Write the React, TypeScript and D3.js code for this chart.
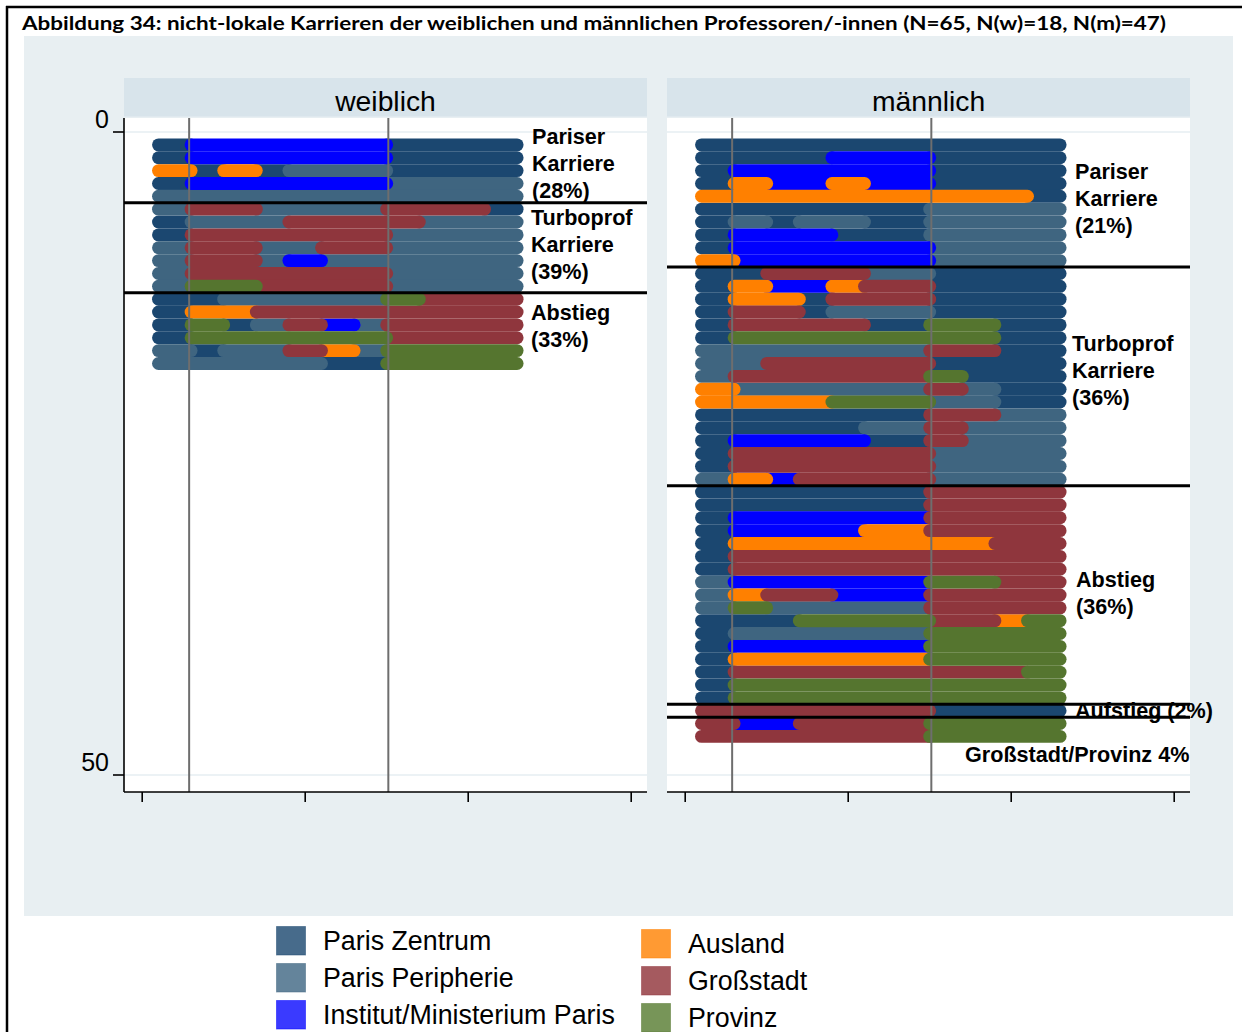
import React from "react";
import * as d3 from "d3";

// ---- states ----
const stateCodes = ["Z", "P", "I", "A", "G", "V"];
const stateLabels = [
  "Paris Zentrum",
  "Paris Peripherie",
  "Institut/Ministerium Paris",
  "Ausland",
  "Großstadt",
  "Provinz",
];
const stateColors = ["#1b4770", "#3f6580", "#0000ff", "#ff8000", "#8f363d", "#55752f"];
const legendColors = ["#476b8b", "#64849b", "#3a3aff", "#ff9a33", "#a55a5f", "#779558"];

// ---- sequences (run-length: state + number of periods), 22 periods each ----
const femaleRows = [
  "Z2,I12,Z8",
  "Z2,I12,Z8",
  "A2,Z2,A2,Z2,P6,Z8",
  "Z2,I12,P8",
  "P22",
  "P2,G4,P8,G6,Z2",
  "Z2,P6,G8,P6",
  "Z2,G12,P8",
  "P2,G4,P4,G4,P8",
  "P2,G4,P2,I2,P12",
  "P2,G12,P8",
  "P2,V4,G8,P8",
  "Z4,P10,V2,G6",
  "Z2,A4,G16",
  "Z2,V2,Z2,P2,G2,I2,P2,G8",
  "Z2,V12,G8",
  "P2,Z2,P4,G2,A2,P2,V8",
  "P10,Z4,V8",
];

const maleRows = [
  "Z22",
  "Z8,I6,Z8",
  "Z2,I12,Z8",
  "Z2,A2,I4,A2,I4,Z8",
  "A20,Z2",
  "Z14,P8",
  "Z2,P2,Z2,P4,Z4,P8",
  "Z2,I6,Z6,P8",
  "Z2,I12,P8",
  "A2,I12,P8",
  "Z4,G6,P4,Z8",
  "Z2,A2,I4,A2,G4,Z8",
  "Z2,A4,Z2,G6,Z8",
  "Z2,G4,Z2,P6,Z8",
  "Z2,G8,Z4,V4,Z4",
  "Z2,V16,Z4",
  "P14,G4,Z4",
  "P4,G10,Z8",
  "P2,G12,V2,Z6",
  "A2,P12,G2,P2,Z4",
  "A8,V6,P4,Z4",
  "Z14,G4,P4",
  "Z10,P4,G2,P6",
  "Z2,I8,Z4,G2,P6",
  "Z2,G12,P8",
  "Z2,G12,P8",
  "P2,A2,I2,G8,P8",
  "Z14,G8",
  "Z14,G8",
  "Z2,I12,G8",
  "Z2,I8,A4,G8",
  "Z2,A16,G4",
  "Z2,G20",
  "Z2,G20",
  "P2,I12,V4,G4",
  "P2,A2,G4,I6,G8",
  "P2,V2,P10,G8",
  "Z6,V8,G4,A2,V2",
  "Z2,P12,V8",
  "Z2,I12,V8",
  "Z2,A12,V8",
  "Z2,G18,V2",
  "Z2,V20",
  "Z2,V20",
  "G14,Z8",
  "G2,I4,G8,V8",
  "G14,V8",
];

const femaleGroupBreaks = [5.5, 12.5];
const maleGroupBreaks = [10.5, 27.5, 44.5, 45.5];
const femaleGroupLabels = [
  ["Pariser", "Karriere", "(28%)"],
  ["Turboprof", "Karriere", "(39%)"],
  ["Abstieg", "(33%)"],
];
const maleGroupLabels = [
  ["Pariser", "Karriere", "(21%)"],
  ["Turboprof", "Karriere", "(36%)"],
  ["Abstieg", "(36%)"],
  ["Aufstieg (2%)"],
  ["Großstadt/Provinz 4%"],
];
const yTicks = [0, 50];
const xTicks = [0, 10, 20, 30];
const refLines = [2.88, 15.1];
const panelTitles = ["weiblich", "männlich"];
const titleText =
  "Abbildung 34: nicht-lokale Karrieren der weiblichen und männlichen Professoren/-innen (N=65, N(w)=18, N(m)=47)";

// ---- layout ----
const W = 1242;
const H = 1032;
const SANS = "'Liberation Sans', Arial, sans-serif";

type Run = { s: number; start: number; end: number };

function parseRow(row: string): Run[] {
  const runs: Run[] = [];
  let t = 1;
  row.split(",").forEach((tok) => {
    const code = tok[0];
    const len = parseInt(tok.slice(1), 10);
    runs.push({ s: stateCodes.indexOf(code), start: t, end: t + len });
    t += len;
  });
  return runs;
}

const femaleLabelPos = [
  { x: 532, y: 144 },
  { x: 531, y: 225 },
  { x: 531, y: 320 },
];
const maleLabelPos = [
  { x: 1075, y: 179 },
  { x: 1072, y: 351 },
  { x: 1076, y: 587 },
  { x: 1075, y: 718 },
  { x: 965, y: 762 },
];

function Panel(props: {
  left: number;
  title: string;
  rows: string[];
  breaks: number[];
  labels: string[][];
  labelPos: { x: number; y: number }[];
  showY: boolean;
}) {
  const { left, title, rows, breaks, labels, labelPos, showY } = props;
  const right = left + 523;
  const top = 118;
  const bottom = 792;
  const x = d3.scaleLinear().domain([0, 30]).range([left + 18.2, left + 507.2]);
  const y = d3.scaleLinear().domain([0, 50]).range([132, 775]);
  const parsed = rows.map(parseRow);

  const segs: { s: number; x1: number; x2: number; y: number; key: string }[] = [];
  stateCodes.forEach((_, si) => {
    parsed.forEach((runs, ri) => {
      runs.forEach((r, k) => {
        if (r.s === si)
          segs.push({ s: si, x1: x(r.start), x2: x(r.end), y: y(ri + 1), key: `${si}-${ri}-${k}` });
      });
    });
  });

  return (
    <g>
      <rect x={left} y={78} width={523} height={38.5} fill="#d8e4eb" />
      <text x={(left + right) / 2} y={111} textAnchor="middle" fontFamily={SANS} fontSize={28.3} fill="#000">
        {title}
      </text>
      <rect x={left} y={top} width={523} height={bottom - top} fill="#ffffff" />
      {yTicks.map((t) => (
        <line key={t} x1={left} x2={right} y1={y(t)} y2={y(t)} stroke="#e6eef2" strokeWidth={1.6} />
      ))}
      {segs.map((d) => (
        <line
          key={d.key}
          x1={d.x1}
          x2={d.x2}
          y1={d.y}
          y2={d.y}
          stroke={stateColors[d.s]}
          strokeWidth={12.9}
          strokeLinecap="round"
        />
      ))}
      {refLines.map((r) => (
        <line key={r} x1={x(r)} x2={x(r)} y1={top} y2={bottom} stroke="#6e6e6e" strokeWidth={2} />
      ))}
      {labels.map((lines, i) => (
        <text key={i} fontFamily={SANS} fontWeight="bold" fontSize={21.6} fill="#000">
          {lines.map((ln, j) => (
            <tspan key={j} x={labelPos[i].x} y={labelPos[i].y + j * 27}>
              {ln}
            </tspan>
          ))}
        </text>
      ))}
      {breaks.map((b) => (
        <line key={b} x1={left} x2={right} y1={y(b)} y2={y(b)} stroke="#000" strokeWidth={3} />
      ))}
      {/* x axis */}
      <line x1={left} x2={right} y1={bottom} y2={bottom} stroke="#000" strokeWidth={1.6} />
      {xTicks.map((t) => (
        <line key={t} x1={x(t)} x2={x(t)} y1={bottom} y2={bottom + 10} stroke="#000" strokeWidth={1.6} />
      ))}
      {showY && (
        <g>
          <line x1={left} x2={left} y1={top} y2={bottom} stroke="#000" strokeWidth={1.6} />
          {yTicks.map((t) => (
            <g key={t}>
              <line x1={left - 11} x2={left} y1={y(t)} y2={y(t)} stroke="#000" strokeWidth={1.6} />
              <text x={left - 15} y={y(t) - 4} textAnchor="end" fontFamily={SANS} fontSize={25} fill="#000">
                {t}
              </text>
            </g>
          ))}
        </g>
      )}
    </g>
  );
}

export default function App() {
  const legendLeft = [0, 1, 2];
  const legendRight = [3, 4, 5];
  return (
    <svg
      width={W}
      height={H}
      viewBox={`0 0 ${W} ${H}`}
      style={{ position: "absolute", left: 0, top: 0, background: "#fff" }}
    >
      <rect x={0} y={0} width={W} height={H} fill="#fff" />
      {/* frame */}
      <line x1={6} x2={W} y1={7} y2={7} stroke="#000" strokeWidth={2.5} />
      <line x1={7} x2={7} y1={6} y2={H} stroke="#000" strokeWidth={2.5} />
      <text
        x={22}
        y={30}
        fontFamily="Lato, 'Open Sans', sans-serif"
        fontWeight="bold"
        fontSize={19.5}
        textLength={1144}
        lengthAdjust="spacingAndGlyphs"
        fill="#000"
      >
        {titleText}
      </text>
      {/* plot region */}
      <rect x={24} y={36} width={1209} height={880} fill="#e8eff2" />
      <Panel
        left={124}
        title={panelTitles[0]}
        rows={femaleRows}
        breaks={femaleGroupBreaks}
        labels={femaleGroupLabels}
        labelPos={femaleLabelPos}
        showY={true}
      />
      <Panel
        left={667}
        title={panelTitles[1]}
        rows={maleRows}
        breaks={maleGroupBreaks}
        labels={maleGroupLabels}
        labelPos={maleLabelPos}
        showY={false}
      />
      {/* legend */}
      {legendLeft.map((si, i) => (
        <g key={si}>
          <rect
            x={276.5}
            y={926.5 + i * 37}
            width={29}
            height={28.5}
            fill={legendColors[si]}
            stroke={stateColors[si]}
            strokeOpacity={0.5}
          />
          <text x={323} y={950 + i * 37} fontFamily={SANS} fontSize={26.8} fill="#000">
            {stateLabels[si]}
          </text>
        </g>
      ))}
      {legendRight.map((si, i) => (
        <g key={si}>
          <rect
            x={641.5}
            y={929.5 + i * 37}
            width={29}
            height={28.5}
            fill={legendColors[si]}
            stroke={stateColors[si]}
            strokeOpacity={0.5}
          />
          <text x={688} y={953 + i * 37} fontFamily={SANS} fontSize={26.8} fill="#000">
            {stateLabels[si]}
          </text>
        </g>
      ))}
    </svg>
  );
}
